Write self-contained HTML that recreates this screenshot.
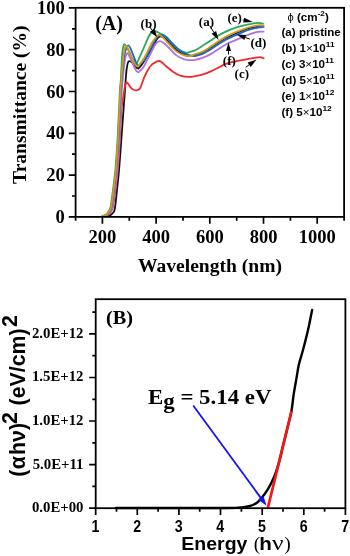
<!DOCTYPE html>
<html><head><meta charset="utf-8"><title>figure</title>
<style>html,body{margin:0;padding:0;background:#fff}body{width:350px;height:556px;overflow:hidden;font-family:"Liberation Sans",sans-serif}</style>
</head><body>
<svg width="350" height="556" viewBox="0 0 350 556" style="display:block;will-change:transform">
<rect width="350" height="556" fill="#fff"/>
<g fill="none" stroke-width="1.8" stroke-linejoin="round" stroke-linecap="round">
<path stroke="#111111" d="M106.0 216.0C106.7 215.9 108.9 216.0 110.0 215.5C111.1 215.0 112.0 214.1 112.8 213.0C113.6 211.9 114.1 212.8 114.8 209.0C115.5 205.2 116.3 196.6 117.0 190.0C117.7 183.4 118.4 177.6 119.1 169.3C119.8 161.0 120.6 149.9 121.3 140.0C122.0 130.1 122.9 118.3 123.5 110.0C124.1 101.7 124.6 95.3 125.0 90.0C125.4 84.7 125.5 81.9 125.8 78.2C126.1 74.5 126.3 70.8 126.8 68.0C127.2 65.2 127.7 62.5 128.5 61.5C129.3 60.5 130.5 61.4 131.5 62.0C132.5 62.6 133.4 64.2 134.5 65.3C135.6 66.4 136.9 68.7 138.2 68.5C139.5 68.3 140.8 66.0 142.2 64.0C143.7 62.0 145.5 58.9 146.9 56.5C148.3 54.1 149.7 51.7 150.9 49.5C152.2 47.3 153.3 45.4 154.4 43.5C155.5 41.6 156.6 39.4 157.6 38.2C158.6 37.0 159.4 36.5 160.5 36.4C161.6 36.3 162.7 36.4 164.0 37.4C165.3 38.4 166.5 40.3 168.6 42.4C170.7 44.5 173.8 48.2 176.4 50.2C179.0 52.2 181.9 53.7 184.3 54.6C186.7 55.5 188.8 55.7 190.6 55.8C192.4 55.9 194.3 55.1 195.0 55.0"/>
<path stroke="#111111" stroke-width="1.3" d="M190.6 55.8C191.3 55.7 192.9 55.6 195.0 55.0C197.1 54.4 200.3 53.5 202.9 52.3C205.5 51.1 208.1 49.4 210.7 47.8C213.3 46.2 216.0 44.2 218.6 42.5C221.2 40.8 223.8 39.2 226.4 37.8C229.1 36.4 231.9 35.3 234.5 34.1C237.1 32.9 239.5 31.9 242.1 30.9C244.7 29.9 247.4 28.9 250.0 28.2C252.6 27.4 255.6 26.8 257.9 26.4C260.2 26.1 262.7 26.1 263.6 26.0"/>
<path stroke="#ee2a2a" d="M104.4 216.0C105.0 215.8 106.9 215.6 107.9 215.0C108.9 214.4 109.7 213.8 110.5 212.5C111.3 211.2 112.1 210.8 112.9 207.0C113.7 203.2 114.6 196.3 115.4 190.0C116.2 183.7 117.1 177.6 117.8 169.3C118.6 161.0 119.3 149.9 119.9 140.0C120.5 130.1 120.8 117.5 121.4 110.0C122.0 102.5 123.0 99.0 123.6 95.0C124.2 91.0 124.5 88.1 125.0 86.0C125.5 83.9 126.1 82.4 126.9 82.5C127.8 82.6 129.1 85.6 130.1 86.8C131.1 88.0 132.0 89.0 133.0 89.6C134.0 90.2 135.1 90.3 136.0 90.3C136.9 90.3 137.8 90.1 138.5 89.7C139.2 89.3 139.7 88.9 140.2 88.0C140.7 87.1 141.1 86.0 141.7 84.3C142.3 82.6 143.2 79.8 144.0 77.9C144.8 76.0 145.5 74.5 146.3 73.0C147.1 71.5 147.8 70.0 148.6 68.7C149.4 67.5 150.2 66.4 151.0 65.5C151.8 64.6 152.4 64.2 153.3 63.5C154.2 62.9 155.6 62.0 156.5 61.6C157.4 61.2 158.1 60.9 159.0 61.0C159.9 61.1 160.9 61.6 162.0 62.4C163.1 63.2 163.5 64.0 165.4 65.6C167.3 67.2 170.7 70.2 173.3 71.9C175.9 73.6 178.6 75.0 181.1 75.8C183.6 76.6 185.9 76.8 188.2 76.9C190.5 77.0 192.6 76.6 195.0 76.2C197.4 75.8 200.3 75.2 202.9 74.4C205.5 73.6 208.1 72.6 210.7 71.4C213.3 70.2 216.0 68.8 218.6 67.5C221.2 66.2 223.8 64.7 226.4 63.7C229.1 62.7 231.9 62.2 234.5 61.6C237.1 61.0 239.5 60.7 242.1 60.2C244.7 59.7 247.4 59.2 250.0 58.7C252.6 58.2 256.1 57.6 257.9 57.4C259.7 57.2 260.1 57.1 261.0 57.3C261.9 57.5 263.2 58.2 263.6 58.4"/>
<path stroke="#2aa862" d="M102.0 216.0C102.5 215.8 104.4 215.6 105.5 215.0C106.5 214.4 107.2 213.8 108.0 212.5C108.9 211.2 109.6 210.8 110.5 207.0C111.3 203.2 112.1 196.3 113.0 190.0C113.8 183.7 114.6 177.6 115.4 169.3C116.1 161.0 116.9 149.9 117.5 140.0C118.0 130.1 118.5 118.3 119.0 110.0C119.4 101.7 119.6 95.0 119.9 90.0C120.2 85.0 120.4 85.0 120.8 80.0C121.1 75.0 121.5 65.2 121.8 60.0C122.1 54.8 122.4 51.6 122.8 49.0C123.2 46.4 123.6 44.5 124.2 44.2C124.8 43.9 125.6 45.6 126.5 47.0C127.4 48.4 128.5 50.6 129.5 52.5C130.5 54.4 131.6 56.8 132.5 58.5C133.4 60.2 134.3 61.6 135.0 62.5C135.7 63.4 135.8 64.6 136.6 63.6C137.4 62.6 138.5 59.4 139.8 56.6C141.1 53.8 142.8 50.2 144.2 46.9C145.6 43.6 147.4 39.3 148.5 37.0C149.6 34.7 150.0 34.0 151.0 33.0C152.0 32.0 153.2 31.1 154.4 31.0C155.6 30.9 156.7 31.7 158.0 32.3C159.3 32.9 160.9 33.9 162.3 34.7C163.7 35.5 164.9 35.9 166.5 37.3C168.1 38.7 169.5 40.8 171.7 42.9C173.9 45.0 177.2 48.4 179.6 50.0C182.0 51.6 184.3 52.3 185.9 52.7C187.5 53.1 187.5 52.6 189.0 52.2C190.5 51.8 192.7 51.5 195.0 50.4C197.3 49.3 200.3 47.2 202.9 45.6C205.5 44.0 208.1 42.4 210.7 40.6C213.3 38.9 216.0 36.8 218.6 35.3C221.2 33.8 223.8 32.6 226.4 31.4C229.1 30.2 231.9 29.0 234.5 28.1C237.1 27.2 239.5 26.6 242.1 25.9C244.7 25.2 247.4 24.7 250.0 24.1C252.6 23.6 255.7 22.9 257.9 22.8C260.1 22.7 262.1 23.6 263.0 23.7"/>
<path stroke="#b070e0" d="M103.9 216.0C104.5 215.8 106.4 215.6 107.4 215.0C108.4 214.4 109.2 213.8 110.0 212.5C110.8 211.2 111.6 210.8 112.4 207.0C113.2 203.2 114.1 196.3 114.9 190.0C115.7 183.7 116.6 177.6 117.3 169.3C118.1 161.0 118.8 149.9 119.4 140.0C120.0 130.1 120.5 118.3 120.9 110.0C121.3 101.7 121.5 95.0 121.8 90.0C122.1 85.0 122.2 84.7 122.7 80.0C123.2 75.3 123.9 66.4 124.6 62.0C125.3 57.6 126.1 54.3 126.9 53.4C127.7 52.5 128.6 54.9 129.5 56.5C130.4 58.1 131.5 60.8 132.5 63.0C133.5 65.2 134.6 68.0 135.5 69.5C136.4 71.0 137.2 72.3 138.2 72.3C139.2 72.3 140.6 70.5 141.6 69.5C142.6 68.5 143.2 67.5 144.1 66.0C144.9 64.5 145.8 62.7 146.9 60.5C148.0 58.3 149.8 55.2 150.9 53.0C152.1 50.8 152.9 48.7 153.8 47.0C154.7 45.3 155.4 44.0 156.4 43.0C157.5 42.0 158.6 41.2 159.9 41.2C161.2 41.2 162.6 42.2 164.0 43.3C165.4 44.3 166.5 45.5 168.6 47.5C170.7 49.5 173.8 53.4 176.4 55.4C179.0 57.4 181.9 58.5 184.3 59.3C186.7 60.1 188.8 60.0 190.6 60.1C192.4 60.2 192.9 60.2 195.0 59.8C197.1 59.4 200.3 58.7 202.9 57.7C205.5 56.8 208.1 55.6 210.7 54.1C213.3 52.7 216.0 50.6 218.6 48.9C221.2 47.2 223.8 45.6 226.4 44.2C229.1 42.8 231.9 41.8 234.5 40.6C237.1 39.4 239.5 38.4 242.1 37.3C244.7 36.2 247.4 35.1 250.0 34.1C252.6 33.2 255.6 32.2 257.9 31.8C260.2 31.4 262.7 31.7 263.6 31.7"/>
<path stroke="#1a66d6" d="M102.8 216.0C103.4 215.8 105.3 215.6 106.3 215.0C107.3 214.4 108.1 213.8 108.9 212.5C109.7 211.2 110.5 210.8 111.3 207.0C112.1 203.2 113.0 196.3 113.8 190.0C114.6 183.7 115.5 177.6 116.2 169.3C117.0 161.0 117.7 149.9 118.3 140.0C118.9 130.1 119.4 118.3 119.8 110.0C120.2 101.7 120.4 95.0 120.7 90.0C121.0 85.0 121.1 85.0 121.6 80.0C122.1 75.0 122.9 64.9 123.6 60.0C124.2 55.1 124.7 53.0 125.5 50.5C126.3 48.0 127.5 45.4 128.5 45.3C129.4 45.2 130.2 48.0 131.2 50.1C132.2 52.2 133.5 56.0 134.4 58.2C135.3 60.5 135.9 62.4 136.6 63.6C137.3 64.8 137.5 65.8 138.5 65.5C139.5 65.2 141.6 62.8 142.8 61.5C144.1 60.2 144.6 59.9 145.9 57.7C147.2 55.5 149.6 50.8 150.9 48.3C152.2 45.8 152.7 44.4 153.8 42.5C154.9 40.6 155.8 38.3 157.2 37.0C158.6 35.7 160.8 34.7 162.3 34.7C163.8 34.8 164.9 35.9 166.5 37.3C168.1 38.7 169.5 40.8 171.7 42.9C173.9 45.0 177.2 48.4 179.6 50.2C182.0 52.0 184.0 52.9 185.9 53.8C187.8 54.7 189.5 55.2 191.0 55.6C192.5 56.0 193.8 56.1 195.0 56.0C196.2 55.9 197.2 55.7 198.5 55.2C199.8 54.8 200.9 54.6 202.9 53.6C204.9 52.6 208.1 51.0 210.7 49.4C213.3 47.8 216.0 45.8 218.6 44.1C221.2 42.4 223.8 40.8 226.4 39.4C229.1 38.0 231.9 37.0 234.5 35.8C237.1 34.6 239.5 33.4 242.1 32.3C244.7 31.2 247.4 30.2 250.0 29.4C252.6 28.6 255.6 27.9 257.9 27.5C260.2 27.1 262.7 27.0 263.6 26.9"/>
<path stroke="#d39c0c" d="M102.5 216.0C103.1 215.8 105.0 215.6 106.0 215.0C107.0 214.4 107.8 213.8 108.6 212.5C109.4 211.2 110.2 210.8 111.0 207.0C111.8 203.2 112.7 196.3 113.5 190.0C114.3 183.7 115.2 177.6 115.9 169.3C116.7 161.0 117.4 149.9 118.0 140.0C118.6 130.1 119.1 118.3 119.5 110.0C119.9 101.7 120.1 95.0 120.4 90.0C120.7 85.0 120.9 85.0 121.3 80.0C121.7 75.0 122.5 65.0 123.0 60.0C123.5 55.0 123.9 52.4 124.4 50.0C125.0 47.6 125.5 45.6 126.3 45.8C127.1 46.0 128.0 49.0 129.0 51.2C130.0 53.4 131.3 56.6 132.3 58.8C133.3 61.0 134.1 63.0 135.0 64.2C135.9 65.5 136.5 66.8 137.7 66.3C138.9 65.8 140.7 63.1 142.2 60.9C143.8 58.6 145.5 55.5 146.9 52.8C148.3 50.1 149.6 46.9 150.9 44.5C152.2 42.1 153.7 40.1 154.9 38.5C156.2 36.9 157.1 35.1 158.4 34.9C159.8 34.7 161.3 36.0 163.0 37.5C164.7 39.0 166.4 41.3 168.6 43.6C170.8 45.9 173.8 49.4 176.4 51.4C179.0 53.4 181.9 54.6 184.3 55.4C186.7 56.2 188.8 56.3 190.6 56.1C192.4 55.9 192.9 55.0 195.0 54.2C197.1 53.4 200.3 52.8 202.9 51.5C205.5 50.2 208.1 48.3 210.7 46.6C213.3 44.9 216.0 42.9 218.6 41.2C221.2 39.5 223.8 37.8 226.4 36.4C229.1 34.9 231.9 33.6 234.5 32.5C237.1 31.4 239.5 30.5 242.1 29.6C244.7 28.7 247.4 27.7 250.0 27.0C252.6 26.2 255.6 25.6 257.9 25.3C260.2 25.1 262.7 25.4 263.6 25.4"/>
</g>
<g stroke="#000" fill="none">
<rect x="75.6" y="7.8" width="268.5" height="209.1" stroke-width="1.8"/>
<path stroke-width="1.7" d="M75.6 216.9h-6.8M75.6 196.0h-3.6M75.6 175.1h-6.8M75.6 154.2h-3.6M75.6 133.3h-6.8M75.6 112.4h-3.6M75.6 91.5h-6.8M75.6 70.6h-3.6M75.6 49.7h-6.8M75.6 28.8h-3.6M75.6 7.8h-6.8M75.6 216.9v3.8M102.4 216.9v6.8M129.3 216.9v3.8M156.1 216.9v6.8M183.0 216.9v3.8M209.8 216.9v6.8M236.7 216.9v3.8M263.5 216.9v6.8M290.4 216.9v3.8M317.2 216.9v6.8M344.1 216.9v3.8"/>
</g>
<g font-family="'Liberation Serif', serif" font-weight="bold" fill="#000">
<g font-size="18.5" text-anchor="end">
<text x="64.7" y="223.0">0</text>
<text x="64.7" y="181.2">20</text>
<text x="64.7" y="139.4">40</text>
<text x="64.7" y="97.6">60</text>
<text x="64.7" y="55.8">80</text>
<text x="64.7" y="13.9">100</text>
</g>
<g font-size="18.5" text-anchor="middle">
<text x="102.4" y="243.4">200</text>
<text x="156.1" y="243.4">400</text>
<text x="209.8" y="243.4">600</text>
<text x="263.5" y="243.4">800</text>
<text x="317.2" y="243.4">1000</text>
</g>
<text x="138" y="271.6" font-size="19.2" textLength="144" lengthAdjust="spacingAndGlyphs">Wavelength (nm)</text>
<text transform="translate(25.5,183.9) rotate(-90)" font-size="19.5">Transmittance (%)</text>
<text x="95.2" y="30.3" font-size="20">(A)</text>
<g font-size="13">
<text x="140.6" y="27.6">(b)</text>
<text x="198.8" y="26.4">(a)</text>
<text x="227.5" y="22.1">(e)</text>
<text x="250.4" y="47.3">(d)</text>
<text x="222.8" y="64.8">(f)</text>
<text x="234.6" y="77.9">(c)</text>
</g>
</g>
<path d="M149.5 26.6L152.1 30.2" stroke="#000" stroke-width="1.0" fill="none"/><path d="M157.1 37.1L149.8 31.9L154.4 28.6Z" fill="#000"/>
<path d="M209.9 26.0L213.9 32.4" stroke="#000" stroke-width="1.0" fill="none"/><path d="M218.6 40.1L211.7 33.8L216.1 31.1Z" fill="#000"/>
<path d="M242.8 19.9L243.7 20.1" stroke="#000" stroke-width="1.0" fill="none"/><path d="M252.9 22.1L243.2 22.4L244.2 17.8Z" fill="#000"/>
<path d="M249.9 39.1L245.2 37.5" stroke="#000" stroke-width="1.0" fill="none"/><path d="M236.7 34.6L246.1 35.0L244.4 40.0Z" fill="#000"/>
<path d="M228.5 54.5L228.5 51.1" stroke="#000" stroke-width="1.0" fill="none"/><path d="M228.5 42.6L231.0 51.1L226.0 51.1Z" fill="#000"/>
<path d="M245.7 67.3L249.2 64.8" stroke="#000" stroke-width="1.0" fill="none"/><path d="M256.5 59.6L250.7 67.0L247.6 62.6Z" fill="#000"/>
<g transform="translate(281.5,0) scale(1.075,1)" font-family="'Liberation Sans', sans-serif" font-weight="bold" font-size="10.8" fill="#000">
<text x="5.6" y="21.5"><tspan font-weight="normal" font-size="10.4">&#981;</tspan> (cm<tspan font-size="7.6" dy="-5">-2</tspan><tspan dy="5">)</tspan></text>
<text x="0" y="36.3">(a) pristine</text>
<text x="0" y="52.2">(b) 1<tspan font-weight="normal">&#215;</tspan>10<tspan font-size="7.8" dy="-5.1">11</tspan></text>
<text x="0" y="68.0">(c) 3<tspan font-weight="normal">&#215;</tspan>10<tspan font-size="7.8" dy="-5.1">11</tspan></text>
<text x="0" y="84.3">(d) 5<tspan font-weight="normal">&#215;</tspan>10<tspan font-size="7.8" dy="-5.1">11</tspan></text>
<text x="0" y="100.5">(e) 1<tspan font-weight="normal">&#215;</tspan>10<tspan font-size="7.8" dy="-5.1">12</tspan></text>
<text x="0" y="116.5">(f) 5<tspan font-weight="normal">&#215;</tspan>10<tspan font-size="7.8" dy="-5.1">12</tspan></text>
</g>
<path d="M116.0 508.0C134.2 508.0 204.7 508.1 225.0 508.0C245.3 507.9 234.7 507.9 238.0 507.7C241.3 507.5 243.0 507.3 245.0 507.0C247.0 506.7 248.5 506.4 250.0 506.0C251.5 505.6 252.7 505.2 254.0 504.5C255.3 503.8 256.6 503.1 258.0 501.8C259.4 500.6 260.9 498.9 262.4 497.0C263.9 495.1 265.5 493.0 267.0 490.6C268.5 488.2 269.9 485.9 271.4 482.8C272.9 479.7 274.6 475.7 276.0 471.8C277.4 467.9 278.7 463.6 279.8 459.5C280.9 455.4 281.4 452.8 282.6 447.5C283.9 442.2 286.0 433.9 287.4 428.0C288.8 422.1 290.3 417.5 291.3 412.0C292.3 406.5 292.8 400.4 293.6 395.0C294.4 389.6 295.3 384.9 296.2 379.9C297.1 374.9 297.8 369.5 298.8 364.8C299.9 360.1 301.4 356.0 302.5 351.8C303.6 347.6 304.5 344.2 305.6 339.9C306.7 335.6 307.8 330.9 308.9 325.9C310.0 320.9 311.6 312.6 312.1 310.0" fill="none" stroke="#000" stroke-width="2.4" stroke-linecap="round"/>
<path d="M267.9 507.6L291.5 411.3" fill="none" stroke="#f01818" stroke-width="2.7" stroke-linecap="butt"/>
<path d="M193.2 405.5L260.8 497.9" stroke="#1414f0" stroke-width="1.8" fill="none"/><path d="M266.6 505.8L258.2 499.8L263.4 496.0Z" fill="#1414f0"/>
<g stroke="#000" fill="none">
<rect x="95.7" y="299.2" width="249.7" height="209.0" stroke-width="1.8"/>
<path stroke-width="1.7" d="M95.7 508.2h-6.6M95.7 486.4h-3.4M95.7 464.6h-6.6M95.7 442.8h-3.4M95.7 421.0h-6.6M95.7 399.3h-3.4M95.7 377.5h-6.6M95.7 355.7h-3.4M95.7 333.9h-6.6M95.7 312.1h-3.4M95.7 508.2v6.8M116.5 508.2v3.6M137.3 508.2v6.8M158.1 508.2v3.6M178.9 508.2v6.8M199.7 508.2v3.6M220.5 508.2v6.8M241.4 508.2v3.6M262.2 508.2v6.8M283.0 508.2v3.6M303.8 508.2v6.8M324.6 508.2v3.6M345.4 508.2v6.8"/>
</g>
<g font-family="'Liberation Serif', serif" font-weight="bold" fill="#000">
<g font-size="14.8" text-anchor="end">
<text x="83.5" y="512.1">0.0E+00</text>
<text x="83.5" y="468.5">5.0E+11</text>
<text x="83.5" y="424.9">1.0E+12</text>
<text x="83.5" y="381.4">1.5E+12</text>
<text x="83.5" y="337.8">2.0E+12</text>
</g>
<text x="106" y="324.1" font-size="19.3" textLength="27" lengthAdjust="spacingAndGlyphs">(B)</text>
<text x="148" y="404" font-size="21.2" textLength="123.5" lengthAdjust="spacingAndGlyphs">E<tspan dy="4">g</tspan><tspan dy="-4"> = 5.14 eV</tspan></text>
</g>
<g font-family="'Liberation Sans', sans-serif" font-weight="bold" fill="#000">
<g font-size="15.8" text-anchor="middle">
<text transform="translate(95.5,531.6) scale(0.9,1)">1</text>
<text transform="translate(137.1,531.6) scale(0.9,1)">2</text>
<text transform="translate(178.7,531.6) scale(0.9,1)">3</text>
<text transform="translate(220.3,531.6) scale(0.9,1)">4</text>
<text transform="translate(262.0,531.6) scale(0.9,1)">5</text>
<text transform="translate(303.6,531.6) scale(0.9,1)">6</text>
<text transform="translate(345.2,531.6) scale(0.9,1)">7</text>
</g>
<text x="181.3" y="549.8" font-size="19.2" textLength="66.1" lengthAdjust="spacingAndGlyphs">Energy</text>
<text x="253.7" y="549.8" font-size="19.5" font-weight="normal" font-family="'Liberation Serif', serif">(</text>
<text x="259.3" y="549.8" font-size="18.4" textLength="12.6" lengthAdjust="spacingAndGlyphs">h</text>
<text x="272" y="549.8" font-size="20" font-weight="normal" font-family="'Liberation Serif', serif" textLength="11.5" lengthAdjust="spacingAndGlyphs">&#957;</text>
<text x="284.2" y="549.8" font-size="19.5" font-weight="normal" font-family="'Liberation Serif', serif">)</text>
<g transform="translate(25.1,0) rotate(-90)">
<text x="-476.8" y="0" font-size="21.4">(<tspan dx="0.4">&#945;</tspan><tspan dx="1.1">h&#957;)</tspan></text>
<text x="-424.1" y="-8.6" font-size="21.5">2</text>
<text x="-405.4" y="0" font-size="21.3">(eV/cm)</text>
<text x="-327.0" y="-8.6" font-size="21.5">2</text>
</g>
</g>
</svg>
</body></html>
